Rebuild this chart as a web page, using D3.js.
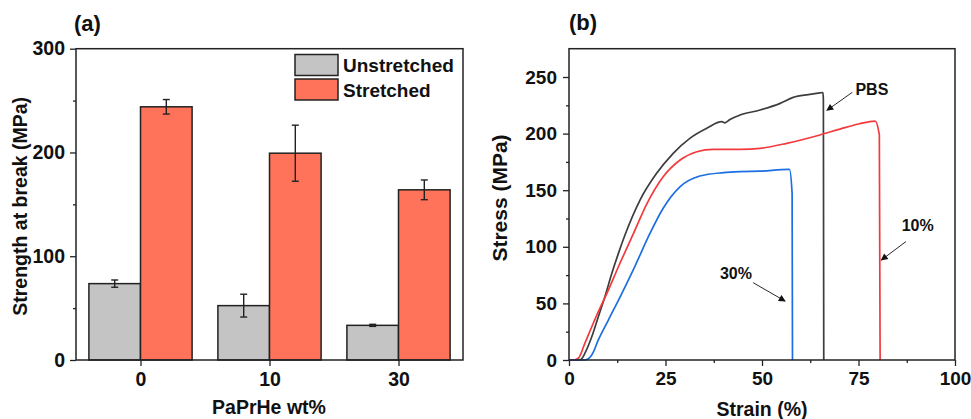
<!DOCTYPE html>
<html>
<head>
<meta charset="utf-8">
<script src="https://cdn.jsdelivr.net/npm/d3@7"></script>
<style>
  body { margin: 0; background: white; }
  svg text { font-family: "Liberation Sans", Arial, sans-serif; font-weight: bold; fill: #111; }
</style>
</head>
<body>
<div id="container"></div>
<script>
// ---- data panel (a) ----
const categories = ["0", "10", "30"];
const seriesNames = ["Unstretched", "Stretched"];
const unstretched = [73.6, 52.4, 33.4];
const unstretchedErr = [3.5, 11, 1];
const stretched = [244, 199.3, 164];
const stretchedErr = [7, 27, 9.5];
const strengthTicks = [0, 100, 200, 300];

// ---- data panel (b) ----
const pbsStrain = [0, 2.8, 3.4, 4.1, 5.9, 7.6, 9.3, 11.1, 12.8, 14.5, 18.4, 22.7, 27, 31.3, 35.7, 39.6, 40.4, 41.7, 44.3, 49.5, 54.7, 58.1, 62, 65, 65.8, 65.9, 66.0];
const pbsStress = [0, 0, 1.5, 5.9, 20.6, 38.3, 55.9, 76.6, 94.2, 110.4, 141.3, 164.9, 182.6, 195.8, 204.7, 210.5, 209.5, 212.5, 216.4, 220.8, 226.7, 232, 234.5, 236, 236.3, 230, 0];
const p10Strain = [0, 1.1, 2.4, 4.1, 5.9, 7.6, 10.2, 12.8, 15.4, 16.8, 20.1, 24.4, 28.8, 33.1, 37.4, 44.3, 49.5, 56.4, 65, 70.2, 75, 79.3, 80.4, 80.6];
const p10Stress = [0, 0, 1.5, 14.7, 29.4, 42.7, 61.8, 82.4, 102, 112.5, 137.5, 161.9, 176.7, 184, 186.1, 186.1, 187, 191.4, 198.8, 204, 208.5, 211.1, 198.8, 0];
const p30Strain = [0, 4.1, 5.9, 7.6, 10.2, 13.7, 17.1, 21, 24.4, 28.8, 33.9, 40, 44.3, 49.5, 56.8, 57.1, 57.8, 57.9];
const p30Stress = [0, 0, 4.4, 17.7, 35.3, 58.9, 83, 112, 134, 153.1, 162.5, 165.5, 166.4, 166.8, 168.4, 168.4, 147.2, 0];
const strainTicks = [0, 25, 50, 75, 100];
const stressTicks = [0, 50, 100, 150, 200, 250];

const svg = d3.select("#container")
  .append("svg")
  .attr("width", 971)
  .attr("height", 419);

const defs = svg.append("defs");
defs.append("marker")
  .attr("id", "arrow")
  .attr("viewBox", "0 0 10 10")
  .attr("refX", 9).attr("refY", 5)
  .attr("markerWidth", 9).attr("markerHeight", 7)
  .attr("markerUnits", "userSpaceOnUse")
  .attr("orient", "auto")
  .append("path")
  .attr("d", "M0,0 L10,5 L0,10 z")
  .attr("fill", "#111");

function styleAxis(g, size) {
  g.selectAll("path").remove();
  g.selectAll("line").attr("stroke", "#222").attr("stroke-width", 1.3);
  g.selectAll("text").style("font-size", size + "px").style("font-family", "Liberation Sans, Arial").style("font-weight", "bold").attr("fill", "#111");
}

// ================= panel (a) =================
const A = {left: 76, right: 463, top: 48.7, bottom: 360};

const xBand = d3.scaleBand()
  .domain(categories)
  .range([A.left, A.right])
  .paddingInner(0.2)
  .paddingOuter(0.1);
const xSub = d3.scaleBand()
  .domain(seriesNames)
  .range([0, xBand.bandwidth()]);
const yA = d3.scaleLinear().domain([0, 300]).range([A.bottom, A.top]);

const barData = [];
categories.forEach((c, i) => {
  barData.push({cat: c, s: "Unstretched", v: unstretched[i], e: unstretchedErr[i]});
  barData.push({cat: c, s: "Stretched", v: stretched[i], e: stretchedErr[i]});
});
const barColor = d3.scaleOrdinal().domain(seriesNames).range(["#c4c4c4", "#fe735a"]);

const pA = svg.append("g");
pA.selectAll(".bar")
  .data(barData)
  .enter()
  .append("rect")
  .attr("class", "bar")
  .attr("x", d => xBand(d.cat) + xSub(d.s))
  .attr("y", d => yA(d.v))
  .attr("width", xSub.bandwidth())
  .attr("height", d => yA(0) - yA(d.v))
  .attr("fill", d => barColor(d.s))
  .attr("stroke", "#222")
  .attr("stroke-width", 1.5);

// error bars
const errG = pA.selectAll(".err")
  .data(barData)
  .enter()
  .append("g")
  .attr("class", "err")
  .attr("transform", d => `translate(${xBand(d.cat) + xSub(d.s) + xSub.bandwidth() / 2}, 0)`);
errG.append("line")
  .attr("y1", d => yA(d.v + d.e)).attr("y2", d => yA(d.v - d.e))
  .attr("stroke", "#222").attr("stroke-width", 1.4);
errG.selectAll(".cap")
  .data(d => [d.v + d.e, d.v - d.e])
  .enter()
  .append("line")
  .attr("x1", -3.5).attr("x2", 3.5)
  .attr("y1", v => yA(v)).attr("y2", v => yA(v))
  .attr("stroke", "#222").attr("stroke-width", 1.4);

// axes (a)
const yAxisA = pA.append("g")
  .attr("transform", `translate(${A.left},0)`)
  .call(d3.axisLeft(yA).tickValues(strengthTicks).tickSize(6).tickPadding(5).tickSizeOuter(0));
styleAxis(yAxisA, 19.5);
const yMinorA = pA.append("g")
  .attr("transform", `translate(${A.left},0)`)
  .call(d3.axisLeft(yA).tickValues([50, 150, 250]).tickSize(3).tickFormat(""));
styleAxis(yMinorA, 10);

const xAxisA = pA.append("g")
  .attr("transform", `translate(0,${A.bottom})`)
  .call(d3.axisBottom(d3.scalePoint().domain(categories).range([xBand("0") + xBand.bandwidth() / 2, xBand("30") + xBand.bandwidth() / 2]))
    .tickSize(6).tickPadding(6).tickSizeOuter(0));
styleAxis(xAxisA, 19.5);

pA.append("rect")
  .attr("x", A.left).attr("y", A.top)
  .attr("width", A.right - A.left).attr("height", A.bottom - A.top)
  .attr("fill", "none").attr("stroke", "#222").attr("stroke-width", 1.5);

// legend
const legA = pA.append("g").attr("transform", "translate(295,54.5)");
seriesNames.forEach((s, i) => {
  legA.append("rect")
    .attr("x", 0).attr("y", i * 24.5)
    .attr("width", 43).attr("height", 21)
    .attr("fill", barColor(s)).attr("stroke", "#222").attr("stroke-width", 1.5);
  legA.append("text")
    .attr("x", 48).attr("y", i * 24.5 + 17.5)
    .style("font-size", "19px")
    .text(s);
});

pA.append("text")
  .attr("transform", `translate(27,${(A.top + A.bottom) / 2 + 2}) rotate(-90)`)
  .attr("text-anchor", "middle")
  .style("font-size", "19.5px")
  .text("Strength at break (MPa)");
pA.append("text")
  .attr("x", (A.left + A.right) / 2 - 0.5).attr("y", 414)
  .attr("text-anchor", "middle")
  .style("font-size", "19.5px")
  .text("PaPrHe wt%");
pA.append("text")
  .attr("x", 74).attr("y", 31)
  .style("font-size", "22px")
  .text("(a)");

// ================= panel (b) =================
const B = {left: 569, right: 955, top: 48.7, bottom: 360};
const xB = d3.scaleLinear().domain([0, 100]).range([B.left, B.right]);
const yB = d3.scaleLinear().domain([0, 275]).range([B.bottom, B.top]);

const pB = svg.append("g");

const curves = [
  {name: "PBS", strain: pbsStrain, stress: pbsStress, color: "#3d3d3d"},
  {name: "10%", strain: p10Strain, stress: p10Stress, color: "#f23a3e"},
  {name: "30%", strain: p30Strain, stress: p30Stress, color: "#1c6ee4"}
];
const line = d3.line()
  .x(d => xB(d[0]))
  .y(d => yB(d[1]))
  .curve(d3.curveMonotoneX);

pB.selectAll(".curve")
  .data(curves)
  .enter()
  .append("path")
  .attr("class", "curve")
  .attr("d", c => line(c.strain.map((s, i) => [s, c.stress[i]])))
  .attr("fill", "none")
  .attr("stroke", c => c.color)
  .attr("stroke-width", 1.7)
  .attr("stroke-linejoin", "round");

const yAxisB = pB.append("g")
  .attr("transform", `translate(${B.left},0)`)
  .call(d3.axisLeft(yB).tickValues(stressTicks).tickSize(6).tickPadding(6).tickSizeOuter(0));
styleAxis(yAxisB, 19);
const yMinorB = pB.append("g")
  .attr("transform", `translate(${B.left},0)`)
  .call(d3.axisLeft(yB).tickValues([25, 75, 125, 175, 225]).tickSize(3).tickFormat(""));
styleAxis(yMinorB, 10);

const xAxisB = pB.append("g")
  .attr("transform", `translate(0,${B.bottom})`)
  .call(d3.axisBottom(xB).tickValues(strainTicks).tickSize(6).tickPadding(6).tickSizeOuter(0));
styleAxis(xAxisB, 19);
const xMinorB = pB.append("g")
  .attr("transform", `translate(0,${B.bottom})`)
  .call(d3.axisBottom(xB).tickValues([12.5, 37.5, 62.5, 87.5]).tickSize(3).tickFormat(""));
styleAxis(xMinorB, 10);

pB.append("rect")
  .attr("x", B.left).attr("y", B.top)
  .attr("width", B.right - B.left).attr("height", B.bottom - B.top)
  .attr("fill", "none").attr("stroke", "#222").attr("stroke-width", 1.5);

// annotations: label position + arrow, in data units
const notes = [
  {text: "PBS", tx: 74.2, ty: 234, x1: 73.4, y1: 236.5, x2: 66.8, y2: 220.5},
  {text: "10%", tx: 86.2, ty: 114, x1: 87.3, y1: 104.6, x2: 80.9, y2: 88.3},
  {text: "30%", tx: 39.1, ty: 71.3, x1: 47.7, y1: 68.3, x2: 56, y2: 52}
];
notes.forEach(n => {
  pB.append("line")
    .attr("x1", xB(n.x1)).attr("y1", yB(n.y1))
    .attr("x2", xB(n.x2)).attr("y2", yB(n.y2))
    .attr("stroke", "#111").attr("stroke-width", 0.9)
    .attr("marker-end", "url(#arrow)");
  pB.append("text")
    .attr("x", xB(n.tx)).attr("y", yB(n.ty))
    .style("font-size", "16px")
    .text(n.text);
});

pB.append("text")
  .attr("transform", `translate(507,198) rotate(-90)`)
  .attr("text-anchor", "middle")
  .style("font-size", "21px")
  .text("Stress (MPa)");
pB.append("text")
  .attr("x", (B.left + B.right) / 2).attr("y", 416)
  .attr("text-anchor", "middle")
  .style("font-size", "19.5px")
  .text("Strain (%)");
pB.append("text")
  .attr("x", 569).attr("y", 30)
  .style("font-size", "22px")
  .text("(b)");
</script>
</body>
</html>
